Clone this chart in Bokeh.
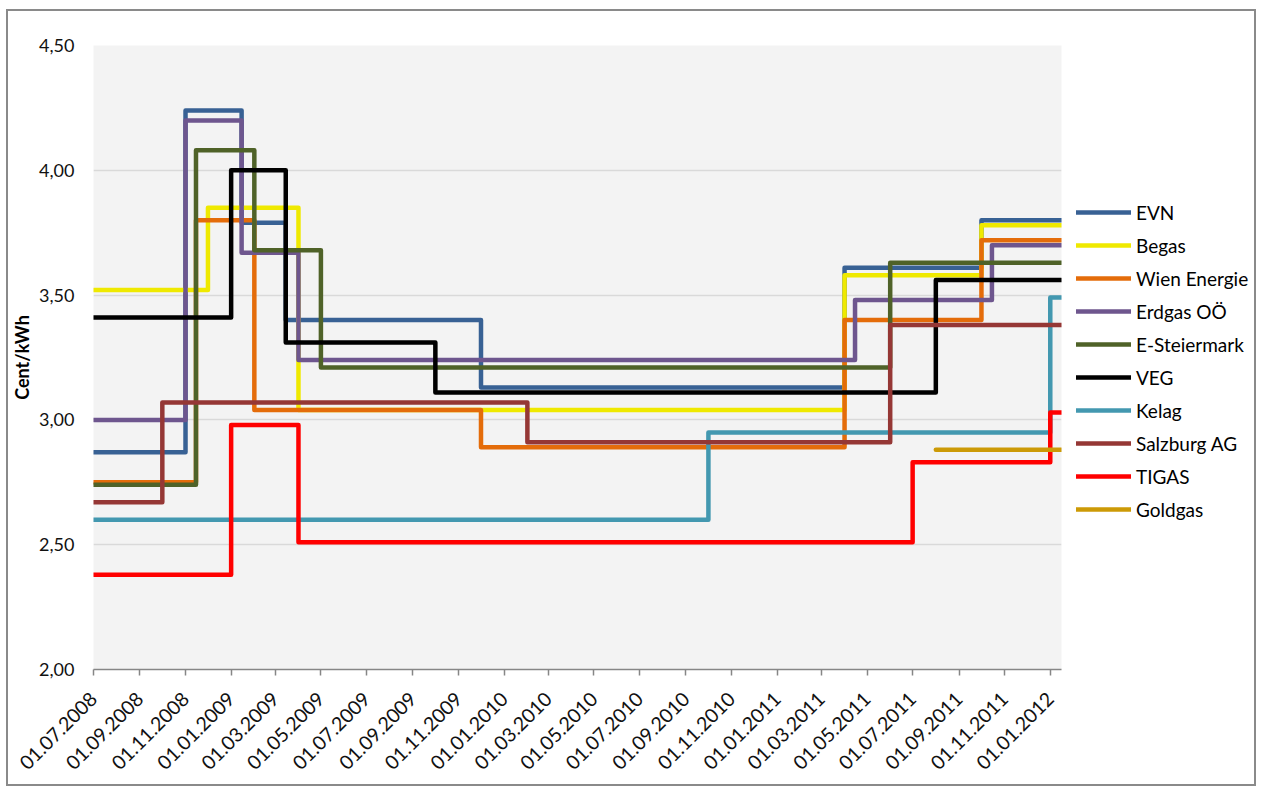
from datetime import datetime
from bokeh.plotting import figure
from bokeh.models import (Range1d, FixedTicker, DatetimeTickFormatter, Legend, LegendItem)
from bokeh.embed import file_html
from bokeh.resources import INLINE

# ---------------- data ----------------
series_names = ["EVN", "Begas", "Wien Energie", "Erdgas OÖ", "E-Steiermark",
                "VEG", "Kelag", "Salzburg AG", "TIGAS", "Goldgas"]

evn_dates = ["01.07.2008", "01.11.2008", "15.01.2009", "15.03.2009", "01.12.2009", "01.04.2011", "01.10.2011"]
evn_vals = [2.87, 4.24, 3.79, 3.40, 3.13, 3.61, 3.80]

begas_dates = ["01.07.2008", "01.12.2008", "01.04.2009", "01.04.2011", "01.10.2011"]
begas_vals = [3.52, 3.85, 3.04, 3.58, 3.78]

wien_dates = ["01.07.2008", "15.11.2008", "01.02.2009", "01.12.2009", "01.04.2011", "01.10.2011"]
wien_vals = [2.75, 3.80, 3.04, 2.89, 3.40, 3.72]

erdgas_dates = ["01.07.2008", "01.11.2008", "15.01.2009", "01.04.2009", "15.04.2011", "15.10.2011"]
erdgas_vals = [3.00, 4.20, 3.67, 3.24, 3.48, 3.70]

steiermark_dates = ["01.07.2008", "15.11.2008", "01.02.2009", "01.05.2009", "01.06.2011"]
steiermark_vals = [2.74, 4.08, 3.68, 3.21, 3.63]

veg_dates = ["01.07.2008", "01.01.2009", "15.03.2009", "01.10.2009", "01.08.2011"]
veg_vals = [3.41, 4.00, 3.31, 3.11, 3.56]

kelag_dates = ["01.07.2008", "01.10.2010", "01.01.2012"]
kelag_vals = [2.60, 2.95, 3.49]

salzburg_dates = ["01.07.2008", "01.10.2008", "01.02.2010", "01.06.2011"]
salzburg_vals = [2.67, 3.07, 2.91, 3.38]

tigas_dates = ["01.07.2008", "01.01.2009", "01.04.2009", "01.07.2011", "01.01.2012"]
tigas_vals = [2.38, 2.98, 2.51, 2.83, 3.03]

goldgas_dates = ["01.08.2011"]
goldgas_vals = [2.88]

end_date = "16.01.2012"

x_tick_labels = ["01.07.2008", "01.09.2008", "01.11.2008", "01.01.2009", "01.03.2009",
                 "01.05.2009", "01.07.2009", "01.09.2009", "01.11.2009", "01.01.2010",
                 "01.03.2010", "01.05.2010", "01.07.2010", "01.09.2010", "01.11.2010",
                 "01.01.2011", "01.03.2011", "01.05.2011", "01.07.2011", "01.09.2011",
                 "01.11.2011", "01.01.2012"]
y_ticks = [2.0, 2.5, 3.0, 3.5, 4.0, 4.5]
y_tick_labels = ["2,00", "2,50", "3,00", "3,50", "4,00", "4,50"]

colors = ["#386194", "#EFE900", "#E46C0A", "#6E568E", "#4F6228",
          "#000000", "#4398B0", "#953735", "#FF0000", "#CC9A06"]

# ---------------- helpers ----------------
def d(s):
    return datetime.strptime(s, "%d.%m.%Y")

EPOCH = datetime(1970, 1, 1)

def ms(dt):
    return (dt - EPOCH).total_seconds() * 1000.0

all_series = [
    (evn_dates, evn_vals), (begas_dates, begas_vals), (wien_dates, wien_vals),
    (erdgas_dates, erdgas_vals), (steiermark_dates, steiermark_vals),
    (veg_dates, veg_vals), (kelag_dates, kelag_vals), (salzburg_dates, salzburg_vals),
    (tigas_dates, tigas_vals), (goldgas_dates, goldgas_vals),
]

FONT = "Lato"
FW, FH = 968, 624

p = figure(frame_width=FW, frame_height=FH, x_axis_type="datetime",
           x_range=Range1d(d(x_tick_labels[0]), d(end_date)),
           y_range=Range1d(y_ticks[0], y_ticks[-1]),
           output_backend="svg", toolbar_location=None,
           min_border_left=85, min_border_right=185, min_border_top=34, min_border_bottom=115,
           background_fill_color="#F3F3F3", border_fill_color="white")
p.styles = {"border": "2px solid #8A8A8A", "margin-left": "6px", "margin-top": "9px",
            "width": "1250px", "overflow": "hidden"}
p.outline_line_color = None

items = []
for name, (ds, vs), c in zip(series_names, all_series, colors):
    xs = [d(s) for s in ds] + [d(end_date)]
    ys = list(vs) + [vs[-1]]
    r = p.step(x=xs, y=ys, mode="after", line_color=c, line_width=4.5,
               line_join="round", line_cap="round")
    items.append(LegendItem(label=name, renderers=[r]))

# grid
p.xgrid.grid_line_color = None
p.ygrid.grid_line_color = "#D9D9D9"
p.ygrid.grid_line_width = 1.5
p.ygrid.ticker = FixedTicker(ticks=y_ticks)

# y axis
p.yaxis.ticker = FixedTicker(ticks=y_ticks)
p.yaxis.major_label_overrides = {t: l for t, l in zip(y_ticks, y_tick_labels)}
p.yaxis.axis_line_color = None
p.yaxis.major_tick_line_color = None
p.yaxis.minor_tick_line_color = None
p.yaxis.major_tick_out = 0
p.yaxis.major_tick_in = 0
p.yaxis.minor_tick_out = 0
p.yaxis.major_label_standoff = 19
p.yaxis.major_label_text_font = FONT
p.yaxis.major_label_text_font_size = "18px"
p.yaxis.major_label_text_color = "#111111"
p.yaxis.axis_label = "Cent/kWh"
p.yaxis.axis_label_text_font = FONT
p.yaxis.axis_label_text_font_style = "bold"
p.yaxis.axis_label_text_font_size = "18px"
p.yaxis.axis_label_text_color = "#000000"
p.yaxis.axis_label_standoff = 3

# x axis
p.xaxis.ticker = FixedTicker(ticks=[ms(d(s)) for s in x_tick_labels])
fmt = "%d.%m.%Y"
p.xaxis.formatter = DatetimeTickFormatter(
    microseconds=fmt, milliseconds=fmt, seconds=fmt, minsec=fmt, minutes=fmt,
    hourmin=fmt, hours=fmt, days=fmt, months=fmt, years=fmt)
p.xaxis.major_label_orientation = 0.785398
p.xaxis.axis_line_color = "#868686"
p.xaxis.axis_line_width = 1.5
p.xaxis.major_tick_line_color = "#868686"
p.xaxis.major_tick_line_width = 1.5
p.xaxis.major_tick_in = 0
p.xaxis.major_tick_out = 6
p.xaxis.minor_tick_line_color = None
p.xaxis.major_label_standoff = 20
p.xaxis.major_label_text_font = FONT
p.xaxis.major_label_text_font_size = "19.5px"
p.xaxis.major_label_text_color = "#111111"

legend = Legend(items=items, location=(15, 148), margin=0, padding=0,
                border_line_color=None, background_fill_alpha=0,
                glyph_width=55, glyph_height=24, label_height=24, spacing=9,
                label_standoff=5, label_text_font=FONT, label_text_font_size="19px",
                label_text_color="#000000")
p.add_layout(legend, "right")

open("out.html", "w").write(file_html(p, INLINE))
